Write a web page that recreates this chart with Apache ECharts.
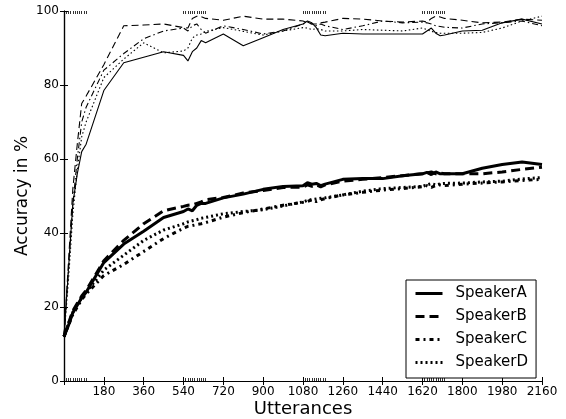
<!DOCTYPE html>
<html>
<head>
<meta charset="utf-8">
<script src="https://cdn.jsdelivr.net/npm/echarts@6/dist/echarts.min.js"></script>
<style>
  html, body { margin: 0; padding: 0; background: #fff; }
  #chart { width: 566px; height: 419px; }
</style>
</head>
<body>
<div id="chart"></div>
<script>
  // x values shared by all series
  const utterances = [0, 20, 40, 60, 80, 100, 180, 270, 360, 450, 540, 560, 580, 600, 620, 640, 720, 810, 900, 990,
    1080, 1100, 1120, 1140, 1160, 1180, 1260, 1350, 1440, 1530, 1620, 1640, 1660, 1680, 1700, 1720, 1800, 1890, 1980, 2070, 2160];

  // thin curves (upper group)
  const upperA = [12, 30, 48, 56, 62, 64, 78.5, 86, 87.5, 89, 88, 86.5, 89, 90, 92, 91.4, 93.8, 90.6, 92.8, 95,
    96.5, 97.3, 96.8, 95.5, 93.5, 93.3, 94, 93.8, 93.8, 93.8, 93.8, 94.6, 95.4, 94, 93.3, 93.5, 94.6, 94.8, 96.8, 97.8, 96.5];
  const upperB = [12, 32, 52, 64, 75, 77, 85.5, 96, 96.2, 96.5, 95.5, 95.4, 98, 98.6, 98.5, 98, 97.5, 98.6, 97.8, 97.8,
    97.3, 96.8, 96.5, 96.5, 96.8, 97, 98, 97.8, 97.3, 97, 97.3, 97, 98, 98.6, 98.4, 98, 97.5, 96.8, 97, 97.8, 97.5];
  const upperC = [12, 30, 48, 60, 70, 74, 84, 88.5, 92.5, 94.6, 95.4, 94.6, 96, 96.5, 95, 94, 96, 95, 93.8, 94.6,
    96.5, 97, 96.5, 96, 96.5, 96, 95, 96, 97.3, 96.8, 97, 96.8, 96.5, 96, 95.8, 95.6, 95.4, 96.5, 96.8, 97.3, 96];
  const upperD = [12, 27, 45, 57, 66, 70, 82, 87, 91.4, 88.7, 89.2, 90, 92.7, 93.5, 93.8, 94.5, 95.5, 94.5, 93.5, 94.6,
    95.5, 95.4, 95, 95.2, 95, 94.6, 94.6, 95, 94.8, 94.6, 95.4, 95, 94.5, 94.2, 94, 94, 94, 94.2, 95.4, 97.3, 98.6];

  // thick curves (lower group)
  const lowerA = [12, 15, 18.5, 20.5, 22.5, 24, 32, 37, 40.5, 44.2, 45.8, 46.5, 46, 47.5, 48, 48, 49.5, 50.5, 51.8, 52.6,
    52.8, 53.6, 53.2, 53.4, 52.8, 53.2, 54.5, 54.7, 54.7, 55.5, 56, 56.4, 55.8, 56.5, 56, 56, 56, 57.5, 58.5, 59.2, 58.5];
  const lowerB = [12, 15.5, 19, 21, 23, 24.5, 32.5, 38, 42.5, 46, 47.2, 47.5, 47.6, 48, 48.4, 49, 49.6, 50.8, 51.5, 52.3,
    52.4, 53, 52.6, 53, 52.5, 53, 54, 54.5, 55, 55.5, 56, 56.2, 56.5, 56, 56.2, 56, 56, 56, 56.5, 57.2, 57.8];
  const lowerC = [12, 15, 18, 20, 22, 23.5, 28.5, 31.5, 35, 38.5, 41.3, 41.8, 42, 42.3, 42.5, 42.8, 44.3, 45.5, 46.5, 47.5,
    48.3, 48.5, 49, 48.5, 49, 49.3, 50.3, 51, 51.6, 52, 52.5, 52.8, 52.3, 52.8, 53, 52.8, 53.2, 53.5, 53.8, 54.2, 54.5];
  const lowerD = [12, 15.5, 18.5, 20.5, 22.5, 24, 30, 34, 38, 40.8, 42.5, 43, 43.3, 43.6, 44, 44.2, 45.2, 45.8, 46.3, 47.3,
    48.4, 48.8, 49, 49.2, 49.4, 49.5, 50.3, 51.3, 52, 52.3, 52.6, 53, 53.3, 53, 53.3, 53.4, 53.5, 53.8, 54, 54.6, 55];

  const speakers = ['SpeakerA', 'SpeakerB', 'SpeakerC', 'SpeakerD'];

  // dense tick clusters along the x axis
  const hatchStarts = [0, 540, 1080, 1620];
  let hatchTicks = [];
  hatchStarts.forEach(s => {
    for (let k = 0; k <= 100; k += 10) hatchTicks.push(s + k);
  });

  const FONT = 'DejaVu Sans';
  const dashes = ['solid', [7, 4], [6, 3, 1.5, 3], [1.5, 2.5]];
  const dashesThick = ['solid', [9, 5], [4, 4, 2, 4], [2, 3]];

  function pairs(arr) {
    return utterances.map((u, i) => [u, arr[i]]);
  }

  let myChart = echarts.init(document.getElementById('chart'));

  let series = [];
  [upperA, upperB, upperC, upperD].forEach((arr, i) => {
    series.push({
      name: speakers[i] + ' (early)',
      type: 'line',
      symbol: 'none',
      silent: true,
      itemStyle: { color: '#000' },
      lineStyle: { color: '#000', width: 1.1, type: dashes[i] },
      data: pairs(arr)
    });
  });
  [lowerA, lowerB, lowerC, lowerD].forEach((arr, i) => {
    series.push({
      name: speakers[i],
      type: 'line',
      symbol: 'none',
      silent: true,
      itemStyle: { color: '#000' },
      lineStyle: { color: '#000', width: 3, type: dashesThick[i] },
      data: pairs(arr)
    });
  });

  let axisLine = { show: true, lineStyle: { color: '#000', width: 1.2 } };

  let options = {
    backgroundColor: '#fff',
    animation: false,
    grid: { left: 64, right: 24, top: 11, bottom: 38, show: false, outerBoundsMode: 'none', containLabel: false },
    legend: {
      data: speakers,
      orient: 'vertical',
      left: 406,
      top: 280,
      itemWidth: 27,
      itemHeight: 14,
      itemGap: 8,
      padding: [6, 8, 8, 8],
      borderColor: '#000',
      borderWidth: 1,
      backgroundColor: '#fff',
      itemStyle: { color: 'transparent', borderColor: 'transparent', borderWidth: 0, opacity: 0 },
      lineStyle: { width: 3, color: '#000' },
      textStyle: { fontFamily: FONT, fontSize: 15, color: '#000', padding: [0, 0, 0, 8] }
    },
    xAxis: [{
      type: 'value',
      position: 'bottom',
      min: 0,
      max: 2160,
      interval: 180,
      name: 'Utterances',
      nameLocation: 'middle',
      nameGap: 19,
      nameMoveOverlap: false,
      nameTextStyle: { fontFamily: FONT, fontSize: 18, color: '#000' },
      axisLine: axisLine,
      axisTick: { show: true, inside: true, length: 4, lineStyle: { color: '#000' } },
      axisLabel: {
        fontFamily: FONT, fontSize: 12, color: '#000', margin: 5,
        formatter: v => (v === 0 ? '' : v)
      },
      splitLine: { show: false }
    }, {
      type: 'value',
      position: 'top',
      min: 0,
      max: 2160,
      interval: 180,
      axisLine: axisLine,
      axisTick: { show: true, inside: true, length: 4, lineStyle: { color: '#000' } },
      axisLabel: { show: false },
      splitLine: { show: false }
    }, {
      type: 'value',
      position: 'bottom',
      min: 0,
      max: 2160,
      axisLine: { show: false },
      axisTick: { show: true, inside: true, length: 3, customValues: hatchTicks, lineStyle: { color: '#000', width: 0.8 } },
      axisLabel: { show: false },
      splitLine: { show: false }
    }, {
      type: 'value',
      position: 'top',
      min: 0,
      max: 2160,
      axisLine: { show: false },
      axisTick: { show: true, inside: true, length: 3, customValues: hatchTicks, lineStyle: { color: '#000', width: 0.8 } },
      axisLabel: { show: false },
      splitLine: { show: false }
    }],
    yAxis: [{
      type: 'value',
      position: 'left',
      min: 0,
      max: 100,
      interval: 20,
      name: 'Accuracy in %',
      nameLocation: 'middle',
      nameGap: 33,
      nameMoveOverlap: false,
      nameTextStyle: { fontFamily: FONT, fontSize: 17, color: '#000' },
      axisLine: axisLine,
      axisTick: { show: true, inside: true, length: 4, lineStyle: { color: '#000' } },
      axisLabel: { fontFamily: FONT, fontSize: 12, color: '#000', margin: 5 },
      splitLine: { show: false }
    }, {
      type: 'value',
      position: 'right',
      min: 0,
      max: 100,
      interval: 20,
      axisLine: axisLine,
      axisTick: { show: true, inside: true, length: 4, lineStyle: { color: '#000' } },
      axisLabel: { show: false },
      splitLine: { show: false }
    }],
    series: series
  };

  myChart.setOption(options);
</script>
</body>
</html>
